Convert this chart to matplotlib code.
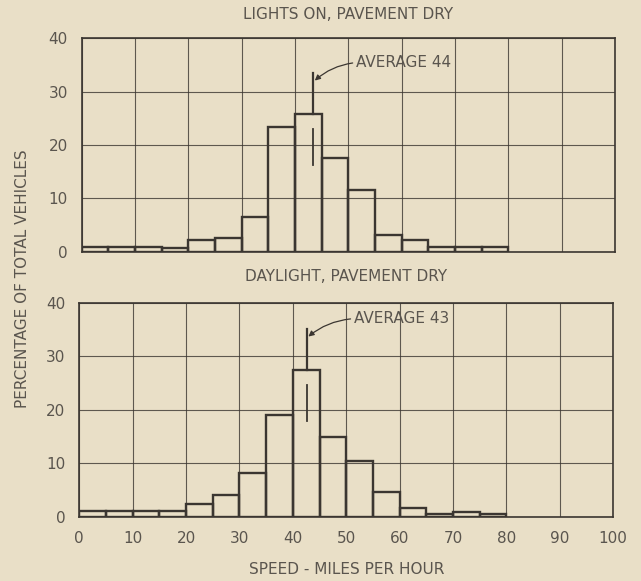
import matplotlib.pyplot as plt
import numpy as np

# speed bins (mph), 5 mph wide
bin_left = [0, 5, 10, 15, 20, 25, 30, 35, 40, 45, 50, 55, 60, 65, 70, 75]

# percentage of total vehicles per bin
lights_on = [0.8, 0.8, 0.8, 0.7, 2.2, 2.6, 6.6, 23.3, 25.8, 17.6, 11.6, 3.1, 2.2, 0.9, 0.9, 0.9]
daylight = [1.0, 1.0, 1.0, 1.0, 2.3, 4.1, 8.2, 19.0, 27.4, 15.0, 10.4, 4.6, 1.6, 0.5, 0.9, 0.5]

titles = ["LIGHTS ON, PAVEMENT DRY", "DAYLIGHT, PAVEMENT DRY"]
avg_labels = ["AVERAGE 44", "AVERAGE 43"]
avg_pos = [43.4, 42.6]

xticks = [0, 10, 20, 30, 40, 50, 60, 70, 80, 90, 100]
yticks = [0, 10, 20, 30, 40]

BG = '#e9dfc7'
INK = '#3b3631'
TXT = '#5a554e'

fig = plt.figure(figsize=(6.41, 5.81), dpi=100, facecolor=BG)
ax1 = fig.add_axes([0.1275, 0.5668, 0.832, 0.367])
ax2 = fig.add_axes([0.1237, 0.1107, 0.833, 0.368])

def draw_panel(ax, vals, title, label, xm, show_x, tpad):
    ax.set_facecolor(BG)
    ax.bar(bin_left, vals, width=5, align='edge', fill=False,
           edgecolor=INK, linewidth=1.7, zorder=3)
    ax.set_xlim(0, 100)
    ax.set_ylim(0, 40)
    ax.set_xticks(xticks)
    ax.set_yticks(yticks)
    ax.grid(True, color=INK, linewidth=0.8, alpha=0.8)
    ax.tick_params(length=0, labelsize=11, labelcolor=TXT, pad=10)
    if not show_x:
        ax.set_xticklabels([])
    for s in ax.spines.values():
        s.set_color(INK)
        s.set_linewidth(1.2)
    ax.set_title(title, fontsize=11, color=TXT, pad=tpad)

    top = vals[bin_left.index(40)]
    # average marker
    ax.plot([xm, xm], [top, top + 7.7], color=INK, linewidth=1.6, zorder=4)
    ax.plot([xm, xm], [top - 9.5, top - 2.7], color=INK, linewidth=1.3, zorder=4)
    ty = top + 9.6
    ax.text(51.4, ty, label, fontsize=11, color=TXT, va='center', ha='left')
    ax.annotate('', xy=(xm + 0.3, top + 6.3), xytext=(50.8, ty),
                arrowprops=dict(arrowstyle='-|>', color=INK, lw=0.9,
                                shrinkA=0, shrinkB=0, mutation_scale=8,
                                connectionstyle='arc3,rad=0.15'))

draw_panel(ax1, lights_on, titles[0], avg_labels[0], avg_pos[0], False, 14)
draw_panel(ax2, daylight, titles[1], avg_labels[1], avg_pos[1], True, 16)

ax2.set_xlabel("SPEED - MILES PER HOUR", fontsize=11, color=TXT, labelpad=12)
fig.text(0.035, 0.52, "PERCENTAGE OF TOTAL VEHICLES", rotation=90,
         fontsize=11, color=TXT, ha='center', va='center')

plt.savefig('out.png', dpi=100, facecolor=BG)
